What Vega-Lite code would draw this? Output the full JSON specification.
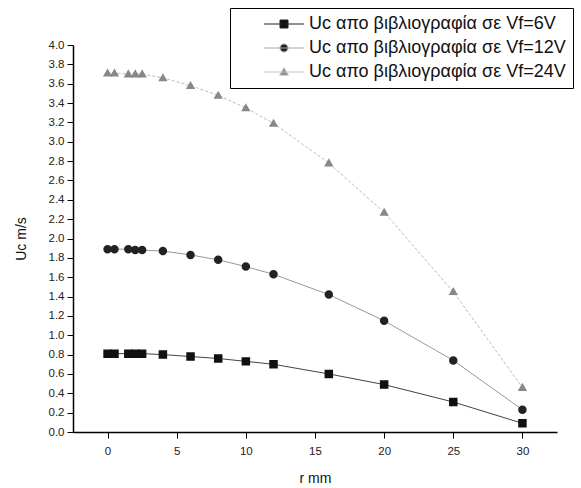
{
  "$schema": "https://vega.github.io/schema/vega-lite/v6.json",
  "width": 484,
  "height": 387,
  "autosize": {"type": "none"},
  "padding": {"left": 73, "top": 45, "right": 24, "bottom": 56},
  "background": "white",
  "config": {
    "view": {"stroke": null},
    "font": "Liberation Sans",
    "axis": {
      "grid": false,
      "domainColor": "#000",
      "domainWidth": 1.5,
      "tickColor": "#000",
      "tickWidth": 1,
      "tickSize": 6,
      "labelColor": "#222",
      "labelFont": "Liberation Sans",
      "labelFontSize": 11.5,
      "titleFont": "Liberation Sans",
      "titleFontWeight": "normal",
      "titleColor": "#111",
      "titleFontSize": 14
    }
  },
  "data": {
    "values": [
      {"r": 0, "u": 0.81, "s": "6V"}, {"r": 0.5, "u": 0.81, "s": "6V"}, {"r": 1.5, "u": 0.81, "s": "6V"}, {"r": 2, "u": 0.81, "s": "6V"}, {"r": 2.5, "u": 0.81, "s": "6V"}, {"r": 4, "u": 0.8, "s": "6V"}, {"r": 6, "u": 0.78, "s": "6V"}, {"r": 8, "u": 0.76, "s": "6V"}, {"r": 10, "u": 0.73, "s": "6V"}, {"r": 12, "u": 0.7, "s": "6V"}, {"r": 16, "u": 0.6, "s": "6V"}, {"r": 20, "u": 0.49, "s": "6V"}, {"r": 25, "u": 0.31, "s": "6V"}, {"r": 30, "u": 0.09, "s": "6V"},
      {"r": 0, "u": 1.89, "s": "12V"}, {"r": 0.5, "u": 1.89, "s": "12V"}, {"r": 1.5, "u": 1.89, "s": "12V"}, {"r": 2, "u": 1.88, "s": "12V"}, {"r": 2.5, "u": 1.88, "s": "12V"}, {"r": 4, "u": 1.87, "s": "12V"}, {"r": 6, "u": 1.83, "s": "12V"}, {"r": 8, "u": 1.78, "s": "12V"}, {"r": 10, "u": 1.71, "s": "12V"}, {"r": 12, "u": 1.63, "s": "12V"}, {"r": 16, "u": 1.42, "s": "12V"}, {"r": 20, "u": 1.15, "s": "12V"}, {"r": 25, "u": 0.74, "s": "12V"}, {"r": 30, "u": 0.23, "s": "12V"},
      {"r": 0, "u": 3.71, "s": "24V"}, {"r": 0.5, "u": 3.71, "s": "24V"}, {"r": 1.5, "u": 3.7, "s": "24V"}, {"r": 2, "u": 3.7, "s": "24V"}, {"r": 2.5, "u": 3.7, "s": "24V"}, {"r": 4, "u": 3.66, "s": "24V"}, {"r": 6, "u": 3.58, "s": "24V"}, {"r": 8, "u": 3.48, "s": "24V"}, {"r": 10, "u": 3.35, "s": "24V"}, {"r": 12, "u": 3.19, "s": "24V"}, {"r": 16, "u": 2.78, "s": "24V"}, {"r": 20, "u": 2.27, "s": "24V"}, {"r": 25, "u": 1.45, "s": "24V"}, {"r": 30, "u": 0.46, "s": "24V"}
    ]
  },
  "encoding": {
    "x": {
      "field": "r", "type": "quantitative",
      "scale": {"domain": [-2.5, 32.5], "nice": false, "zero": false},
      "axis": {"title": "r mm", "values": [0, 5, 10, 15, 20, 25, 30], "labelPadding": 7, "titlePadding": 15}
    },
    "y": {
      "field": "u", "type": "quantitative",
      "scale": {"domain": [0, 4], "nice": false},
      "axis": {"title": "Uc m/s", "values": [0, 0.2, 0.4, 0.6, 0.8, 1, 1.2, 1.4, 1.6, 1.8, 2, 2.2, 2.4, 2.6, 2.8, 3, 3.2, 3.4, 3.6, 3.8, 4], "format": ".1f", "labelPadding": 3, "titlePadding": 20}
    }
  },
  "layer": [
    {"transform": [{"filter": "datum.s === '6V'"}], "mark": {"type": "line", "color": "#444", "strokeWidth": 1}},
    {"transform": [{"filter": "datum.s === '12V'"}], "mark": {"type": "line", "color": "#999", "strokeWidth": 1}},
    {"transform": [{"filter": "datum.s === '24V'"}], "mark": {"type": "line", "color": "#bbb", "strokeWidth": 1, "strokeDash": [3, 2]}},
    {
      "mark": {"type": "point", "filled": true, "opacity": 1, "strokeWidth": 0, "size": 72},
      "encoding": {
        "color": {
          "field": "s", "type": "nominal",
          "scale": {"domain": ["6V", "12V", "24V"], "range": ["#111", "#222", "#888"]},
          "legend": {
            "title": null,
            "orient": "none",
            "legendX": 157,
            "legendY": -37,
            "strokeColor": "#000",
            "fillColor": "#fff",
            "padding": 7,
            "labelFont": "Liberation Sans",
            "labelFontSize": 18,
            "labelColor": "#111",
            "labelLimit": 500,
            "symbolSize": 64,
            "symbolStrokeWidth": 1,
            "symbolOffset": 38,
            "labelOffset": 16,
            "rowPadding": 6,
            "labelExpr": "datum.value === '6V' ? 'Uc απο βιβλιογραφία σε Vf=6V\u00a0\u00a0\u00a0\u00a0\u00a0' : datum.value === '12V' ? 'Uc απο βιβλιογραφία σε Vf=12V' : 'Uc απο βιβλιογραφία σε Vf=24V'"
          }
        },
        "stroke": {
          "field": "s", "type": "nominal",
          "scale": {"domain": ["6V", "12V", "24V"], "range": ["#222", "#aaa", "#c4c4c4"]},
          "legend": {"title": null}
        },
        "shape": {
          "field": "s", "type": "nominal",
          "scale": {"domain": ["6V", "12V", "24V"], "range": ["M-5,0H5M-1,-1H1V1H-1Z", "M-5,0H5M1,0A1,1,0,1,1,-1,0A1,1,0,1,1,1,0Z", "M-5,0H5M0,-1.1L1.1,0.8H-1.1Z"]},
          "legend": {"title": null}
        }
      }
    }
  ]
}
